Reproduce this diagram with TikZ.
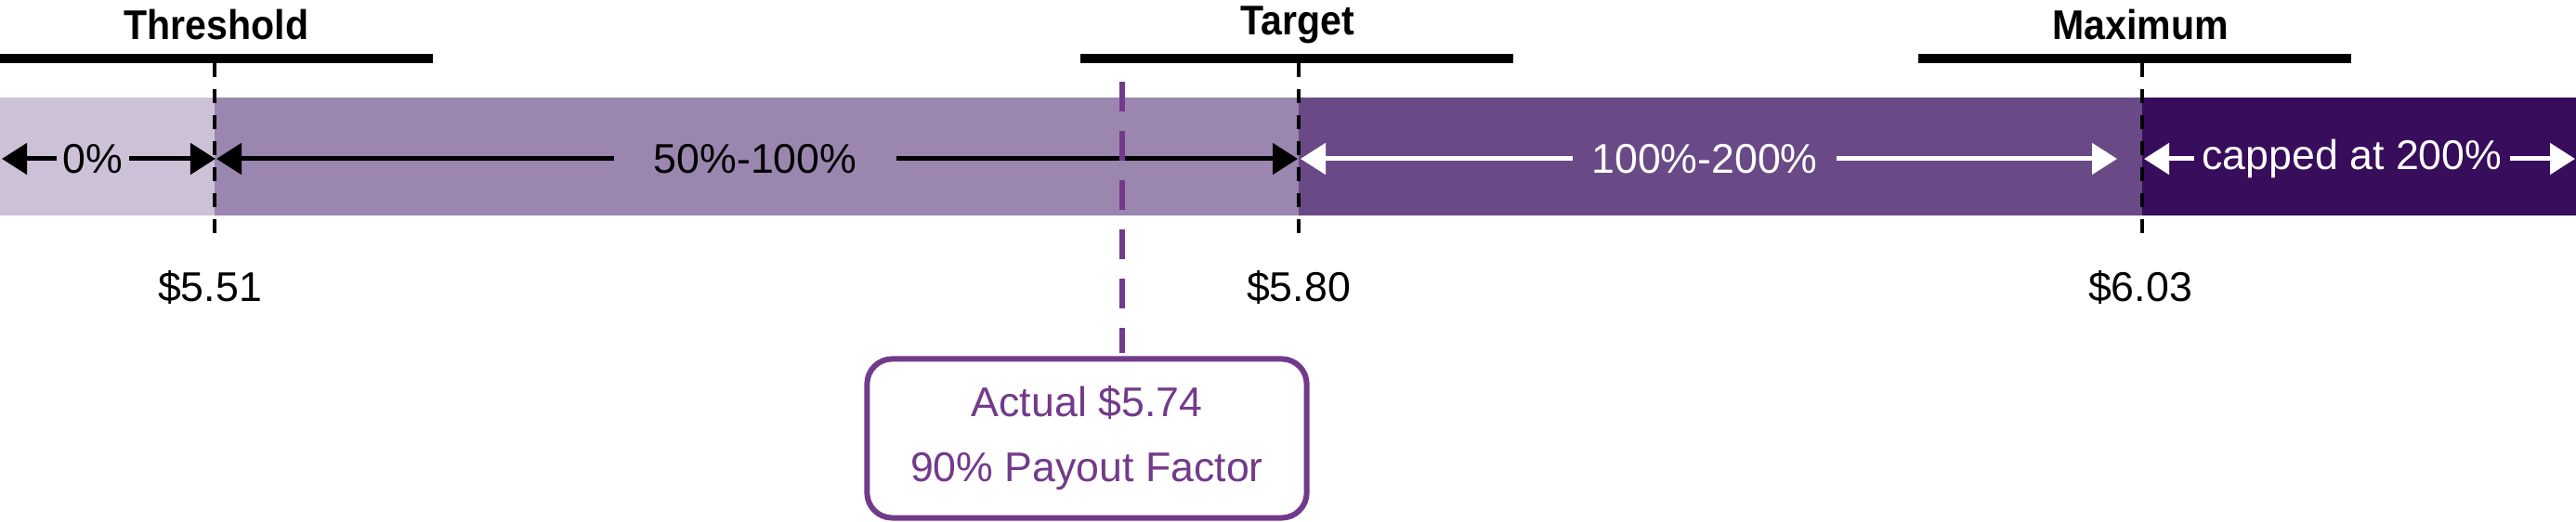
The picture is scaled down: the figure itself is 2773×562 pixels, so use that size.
\documentclass[tikz,border=0pt]{standalone}
\usepackage{fontspec}
\setmainfont{Liberation Sans}
\newfontfamily\toplabelfont[FakeStretch=0.92]{Liberation Sans Bold}
\usetikzlibrary{arrows.meta}
\definecolor{segA}{HTML}{CDC1D8}
\definecolor{segB}{HTML}{9A86AE}
\definecolor{segC}{HTML}{694A86}
\definecolor{segD}{HTML}{380D5C}
\definecolor{actpurple}{HTML}{733A8B}
\tikzset{
  topbar/.style={line width=0.1cm, black},
  mark line/.style={line width=0.04cm, black, dash pattern=on 0.15cm off 0.13cm},
  toplabel/.style={font=\fontsize{12.7}{15}\toplabelfont, inner sep=0pt},
  vallabel/.style={font=\fontsize{12.7}{15}\selectfont, inner sep=0pt},
  barlabel/.style={font=\fontsize{12.7}{15}\selectfont, inner ysep=0pt},
  rangearrow/.style={line width=0.05cm, -{Triangle[length=0.27cm,width=0.33cm]}},
  actbox/.style={draw=actpurple, line width=0.06cm, rounded corners=0.27cm, fill=white,
    minimum width=4.73cm, minimum height=1.71cm, align=center, text=actpurple,
    font=\fontsize{12.7}{19.9}\selectfont},
  actline/.style={actpurple, line width=0.06cm, dash pattern=on 0.32cm off 0.21cm}
}
\begin{document}
\begin{tikzpicture}[x=0.01cm, y=-0.01cm]
\useasboundingbox (0,0) rectangle (2773,562);
% bar segments
\fill[segA] (0,105) rectangle (231,232);
\fill[segB] (231,105) rectangle (1398,232);
\fill[segC] (1398,105) rectangle (2306,232);
\fill[segD] (2306,105) rectangle (2773,232);
% top bars
\draw[topbar] (0,63) -- (466,63);
\draw[topbar] (1163,63) -- (1629,63);
\draw[topbar] (2065,63) -- (2531,63);
% top labels
\node[toplabel] (thr) at (233,27) {Threshold};
\node[toplabel] (tgt) at (1397,27) {Target};
\node[toplabel] (max) at (2304,27) {Maximum};
% dashed markers
\coordinate (thrA) at (231,68); \coordinate (thrB) at (231,262);
\coordinate (tgtA) at (1398,68); \coordinate (tgtB) at (1398,262);
\coordinate (maxA) at (2306,68); \coordinate (maxB) at (2306,262);
\draw[mark line] (thrA) -- (thrB);
\draw[mark line] (tgtA) -- (tgtB);
\draw[mark line] (maxA) -- (maxB);
% values
\node[vallabel] (v1) at (226,310) {\$5.51};
\node[vallabel] (v2) at (1398,310) {\$5.80};
\node[vallabel] (v3) at (2304,310) {\$6.03};
% range arrows
\coordinate (e0) at (2,171);
\coordinate (e1) at (232,171);
\coordinate (e1r) at (233,171);
\coordinate (e2) at (1397,171);
\coordinate (e2r) at (1400,171);
\coordinate (e3) at (2279,171);
\coordinate (e3r) at (2308,171);
\coordinate (e4) at (2772,171);
\node[barlabel, inner xsep=0.06cm] (r0) at (100,171) {0\%};
\draw[rangearrow] (r0.west) -- (e0);
\draw[rangearrow] (r0.east) -- (e1);
\node[barlabel, inner xsep=0.42cm] (r1) at (813,171) {50\%-100\%};
\draw[rangearrow] (r1.west) -- (e1r);
\draw[rangearrow] (r1.east) -- (e2);
\node[barlabel, text=white, inner xsep=0.2cm] (r2) at (1835,171) {100\%-200\%};
\draw[rangearrow, white] (r2.west) -- (e2r);
\draw[rangearrow, white] (r2.east) -- (e3);
\node[barlabel, text=white, inner xsep=0.08cm] (r3) at (2532,171) {capped at 200\%};
\draw[rangearrow, white] (r3.west) -- (e3r);
\draw[rangearrow, white] (r3.east) -- (e4);
% actual
\coordinate (actA) at (1208,88);
\coordinate (actB) at (1208,380);
\draw[actline] (actA) -- (actB);
\node[actbox] (act) at (1170,472) {Actual \$5.74\\90\% Payout Factor};
\end{tikzpicture}
\end{document}
